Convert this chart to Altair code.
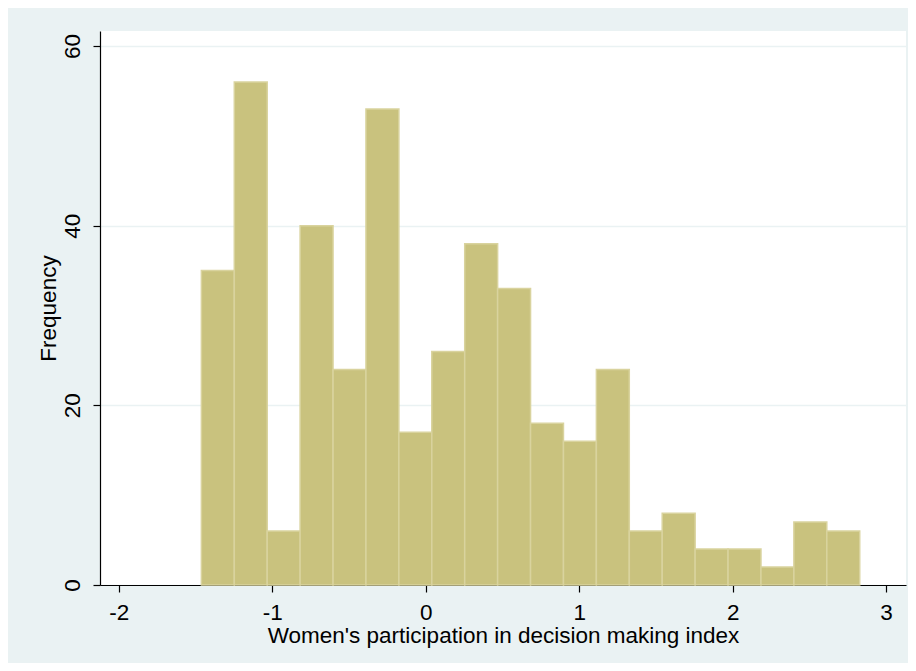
import altair as alt
import pandas as pd

counts = [35, 56, 6, 40, 24, 53, 17, 26, 38, 33, 18, 16, 24, 6, 8, 4, 4, 2, 7, 6]
bin_start = -1.462
bin_width = 0.2145
x_ticks = [-2, -1, 0, 1, 2, 3]
y_ticks = [0, 20, 40, 60]

df = pd.DataFrame({
    "lo": [bin_start + i * bin_width for i in range(len(counts))],
    "hi": [bin_start + (i + 1) * bin_width for i in range(len(counts))],
    "freq": counts,
})

chart = alt.Chart(df).mark_bar(
    color="#C9C27E", stroke="#D9D39E", strokeWidth=1.5, orient="vertical"
).encode(
    x=alt.X("lo:Q", scale=alt.Scale(domain=[-2.09, 3.097], nice=False, zero=False),
            axis=alt.Axis(values=x_ticks, title="Women's participation in decision making index",
                          grid=False, labelExpr="'' + datum.value")),
    x2="hi:Q",
    y=alt.Y("freq:Q", scale=alt.Scale(domain=[0, 61.67], nice=False),
            axis=alt.Axis(values=y_ticks, title="Frequency", grid=True, labelAngle=270,
                          labelExpr="'' + datum.value")),
    y2=alt.datum(0),
).properties(
    width=806, height=554,
    background="#EAF2F3",
    padding={"left": 92, "top": 23, "right": 2, "bottom": 78},
    autosize=alt.AutoSizeParams(type="none"),
).configure_view(
    fill="white", stroke=None
).configure_axis(
    labelFont="Liberation Sans", titleFont="Liberation Sans",
    labelFontSize=22.5, titleFontSize=22.5, titleFontWeight="normal",
    labelColor="black", titleColor="black",
    domainColor="black", domainWidth=1.2, tickColor="black", tickWidth=1.2, tickSize=7,
    gridColor="#EAF2F3", gridWidth=1.5,
).configure_axisX(
    labelPadding=9, titlePadding=1,
).configure_axisY(
    labelPadding=21, labelBaseline="middle", labelAlign="center",
    titleX=-52, titleY=277, titleAngle=270, titleAlign="center", titleBaseline="middle",
)

chart.save("out.html", embed_options={"renderer": "svg", "actions": False})
